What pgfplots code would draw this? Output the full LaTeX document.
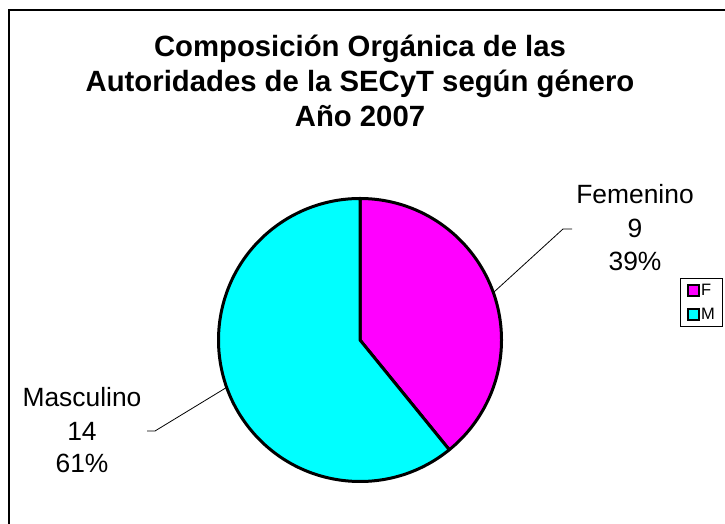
\documentclass[border=0pt]{standalone}
\usepackage{pgfplots}
\pgfplotsset{compat=1.18}
\usepackage{pgfplotstable}
\usepackage{fontspec}
\setmainfont{Liberation Sans}
\definecolor{pmag}{RGB}{255,0,255}
\definecolor{pcyan}{RGB}{0,255,255}
\pgfplotstableread{
label value
F 9
M 14
}\piedata
\pgfplotstablegetelem{0}{value}\of\piedata \let\vF\pgfplotsretval
\pgfplotstablegetelem{1}{value}\of\piedata \let\vM\pgfplotsretval
\pgfmathsetmacro{\angF}{90-360*\vF/(\vF+\vM)}
\pgfmathsetmacro{\midF}{90-180*\vF/(\vF+\vM)}
\pgfmathsetmacro{\midM}{\angF-180*\vM/(\vF+\vM)}
\pgfmathsetmacro{\bx}{cos(\angF)}
\pgfmathsetmacro{\by}{sin(\angF)}
\pgfmathsetmacro{\fx}{cos(\midF)}
\pgfmathsetmacro{\fy}{sin(\midF)}
\pgfmathsetmacro{\mx}{cos(\midM)}
\pgfmathsetmacro{\my}{sin(\midM)}
\newcommand{\lf}{\fontsize{16.5}{19}\selectfont}
\begin{document}
\begin{tikzpicture}
\useasboundingbox (0pt,0pt) rectangle (725pt,524pt);
\begin{scope}
\clip (0pt,0pt) rectangle (725pt,524pt);
\fill[white] (0pt,0pt) rectangle (725pt,524pt);
\draw[line width=1.8pt] (9pt,514pt) rectangle (780pt,-40pt);
% title
\node[anchor=base,font=\fontsize{29.3}{35}\selectfont\bfseries] at (360pt,467pt) {Composición Orgánica de las};
\node[anchor=base,font=\fontsize{29.3}{35}\selectfont\bfseries] at (360pt,432pt) {Autoridades de la SECyT según género};
\node[anchor=base,font=\fontsize{29.3}{35}\selectfont\bfseries] at (360pt,397pt) {Año 2007};
\coordinate (C) at (360pt,184pt);
\begin{axis}[
  at={(C)}, anchor=center,
  hide axis, scale only axis, clip=false,
  width=566pt, height=566pt,
  xmin=-2, xmax=2, ymin=-2, ymax=2,
  legend style={at={(1.0654,0.6095)}, anchor=north west,
    draw=black, line width=1pt, fill=white,
    font=\lf,
    inner xsep=6pt, inner ysep=4pt, row sep=8pt,
    nodes={inner sep=1.5pt}},
  legend cell align=left,
  legend image code/.code={\draw[line width=2pt,#1] (0pt,-5.5pt) rectangle (11pt,5.5pt);},
]
\addlegendimage{fill=pmag,draw=black}
\addlegendentry{\lf F}
\addlegendimage{fill=pcyan,draw=black}
\addlegendentry{\lf M}
\filldraw[fill=pmag, draw=black, line width=3pt, line join=round]
  (axis cs:0,0) -- (axis cs:0,1) arc[start angle=90, end angle=\angF, radius=141.5pt] -- cycle;
\filldraw[fill=pcyan, draw=black, line width=3pt, line join=round]
  (axis cs:0,0) -- (axis cs:\bx,\by) arc[start angle=\angF, end angle=-270, radius=141.5pt] -- cycle;
\draw[line width=0.8pt] (axis cs:\fx,\fy) -- (axis cs:1.4346,0.7845) -- (axis cs:1.4982,0.7845);
\draw[line width=0.8pt] (axis cs:\mx,\my) -- (axis cs:-1.4488,-0.6431) -- (axis cs:-1.5053,-0.6431);
\end{axis}
% data labels
\node[anchor=base,font=\fontsize{26.4}{33}\selectfont] at (635pt,320pt) {Femenino};
\node[anchor=base,font=\fontsize{26.4}{33}\selectfont] at (635pt,286pt) {9};
\node[anchor=base,font=\fontsize{26.4}{33}\selectfont] at (635pt,253pt) {39\%};
\node[anchor=base,font=\fontsize{26.4}{33}\selectfont] at (82pt,117pt) {Masculino};
\node[anchor=base,font=\fontsize{26.4}{33}\selectfont] at (82pt,83pt) {14};
\node[anchor=base,font=\fontsize{26.4}{33}\selectfont] at (82pt,51pt) {61\%};
\end{scope}
\end{tikzpicture}
\end{document}
